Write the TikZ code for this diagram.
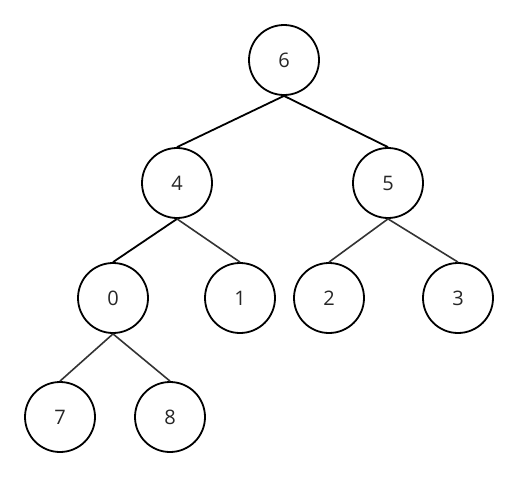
\documentclass[tikz,border=0pt]{standalone}
\usepackage{fontspec}
\setmainfont{Open Sans}
\begin{document}
\begin{tikzpicture}[x=1pt,y=-1pt,
  tnode/.style={circle,draw=black,line width=1.8pt,minimum size=70pt,inner sep=0pt,font=\fontsize{20}{22}\selectfont,text=black!85},
  edge/.style={line width=1.8pt,draw=black},
  edge2/.style={line width=1.6pt,draw=black!80}]
\useasboundingbox (0,0) rectangle (518,477);
\node[tnode] (n6) at (284,60) {6};
\node[tnode] (n4) at (177,183) {4};
\node[tnode] (n5) at (388,183) {5};
\node[tnode] (n0) at (113,298) {0};
\node[tnode] (n1) at (240,298) {1};
\node[tnode] (n2) at (329,298) {2};
\node[tnode] (n3) at (458,298) {3};
\node[tnode] (n7) at (60,417) {7};
\node[tnode] (n8) at (170,417) {8};
\draw[edge] (n6.south) -- (n4.north);
\draw[edge] (n6.south) -- (n5.north);
\draw[edge] (n4.south) -- (n0.north);
\draw[edge2] (n4.south) -- (n1.north);
\draw[edge2] (n5.south) -- (n2.north);
\draw[edge2] (n5.south) -- (n3.north);
\draw[edge2] (n0.south) -- (n7.north);
\draw[edge2] (n0.south) -- (n8.north);
\end{tikzpicture}
\end{document}
